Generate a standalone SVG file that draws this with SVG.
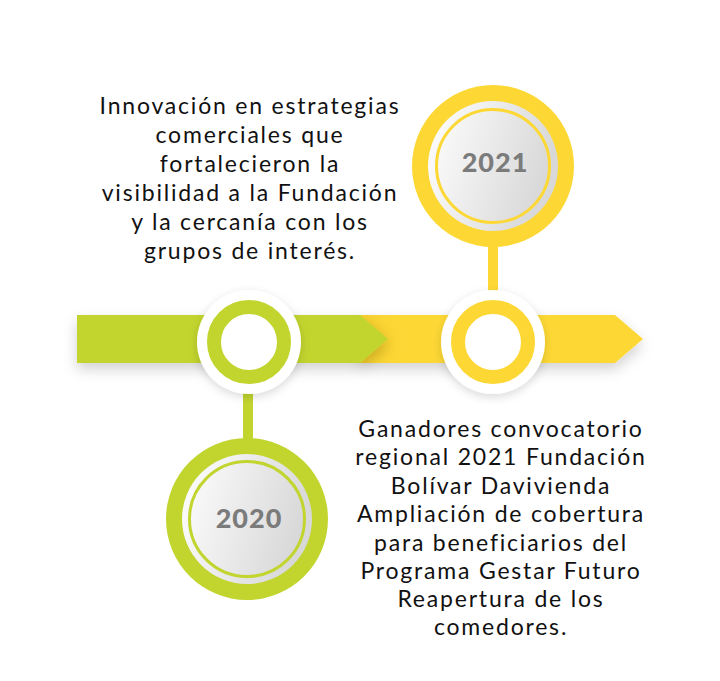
<svg xmlns="http://www.w3.org/2000/svg" width="720" height="681" viewBox="0 0 720 681">
<style>
.t{font-family:Lato,"Open Sans",sans-serif;font-size:23px;font-weight:400;letter-spacing:1.8px;fill:#111;text-anchor:middle}
.yr{font-family:Lato,"Open Sans",sans-serif;font-size:27px;font-weight:900;letter-spacing:1px;fill:#7b7b7b;text-anchor:middle}
</style>
<defs>
<filter id="sh" x="-30%" y="-50%" width="160%" height="200%">
<feDropShadow dx="0" dy="6" stdDeviation="7" flood-color="#000" flood-opacity="0.18"/>
</filter>
<filter id="sh2" x="-30%" y="-30%" width="160%" height="160%">
<feDropShadow dx="0" dy="3" stdDeviation="5" flood-color="#000" flood-opacity="0.15"/>
</filter>
<linearGradient id="disc" x1="0" y1="0" x2="1" y2="0.3">
<stop offset="0" stop-color="#ffffff"/>
<stop offset="1" stop-color="#d8d8d8"/>
</linearGradient>
<radialGradient id="tipsh" cx="360" cy="339" r="50" gradientUnits="userSpaceOnUse">
<stop offset="0" stop-color="#e0b820" stop-opacity="0.7"/>
<stop offset="1" stop-color="#fdd835" stop-opacity="0"/>
</radialGradient>
</defs>
<g id="connectors">
<rect x="243" y="390" width="10" height="52" fill="#c2d52f"/>
<rect x="488" y="240" width="10" height="52" fill="#fdd835"/>
</g>
<g id="bar-2021" filter="url(#sh)">
<polygon points="360,315 615,315 643,339 615,363 360,363" fill="#fdd835"/>
</g>
<rect x="355" y="315" width="60" height="48" fill="url(#tipsh)"/>
<g id="bar-2020" filter="url(#sh)">
<polygon points="77,315 360,315 388,339 360,363 77,363" fill="#c2d52f"/>
</g>
<g id="ring-2020" filter="url(#sh2)">
<circle cx="249" cy="342" r="52" fill="#fff"/>
<circle cx="249" cy="342" r="35" fill="none" stroke="#c2d52f" stroke-width="14"/>
</g>
<g id="ring-2021" filter="url(#sh2)">
<circle cx="493" cy="342" r="52" fill="#fff"/>
<circle cx="493" cy="342" r="35" fill="none" stroke="#fdd835" stroke-width="14"/>
</g>
<g id="node-2021">
<circle cx="493" cy="166" r="81" fill="#fdd835"/>
<circle cx="493" cy="166" r="65" fill="url(#disc)"/>
<circle cx="493" cy="166" r="56.5" fill="none" stroke="#fdd835" stroke-width="3"/>
<text class="yr" x="495" y="172">2021</text>
</g>
<g id="node-2020">
<circle cx="247" cy="519" r="81" fill="#c2d52f"/>
<circle cx="247" cy="519" r="65" fill="url(#disc)"/>
<circle cx="247" cy="519" r="57.5" fill="none" stroke="#c2d52f" stroke-width="3"/>
<text class="yr" x="249" y="528">2020</text>
</g>
<g id="text-2021">
<text class="t" x="250" y="114">Innovación en estrategias</text>
<text class="t" x="250" y="143">comerciales que</text>
<text class="t" x="250" y="172">fortalecieron la</text>
<text class="t" x="250" y="201">visibilidad a la Fundación</text>
<text class="t" x="250" y="230">y la cercanía con los</text>
<text class="t" x="250" y="259">grupos de interés.</text>
</g>
<g id="text-2020">
<text class="t" x="501" y="437">Ganadores convocatorio</text>
<text class="t" x="501" y="465">regional 2021 Fundación</text>
<text class="t" x="501" y="494">Bolívar Davivienda</text>
<text class="t" x="501" y="522">Ampliación de cobertura</text>
<text class="t" x="501" y="551">para beneficiarios del</text>
<text class="t" x="501" y="579">Programa Gestar Futuro</text>
<text class="t" x="501" y="607">Reapertura de los</text>
<text class="t" x="501" y="635">comedores.</text>
</g>
</svg>
